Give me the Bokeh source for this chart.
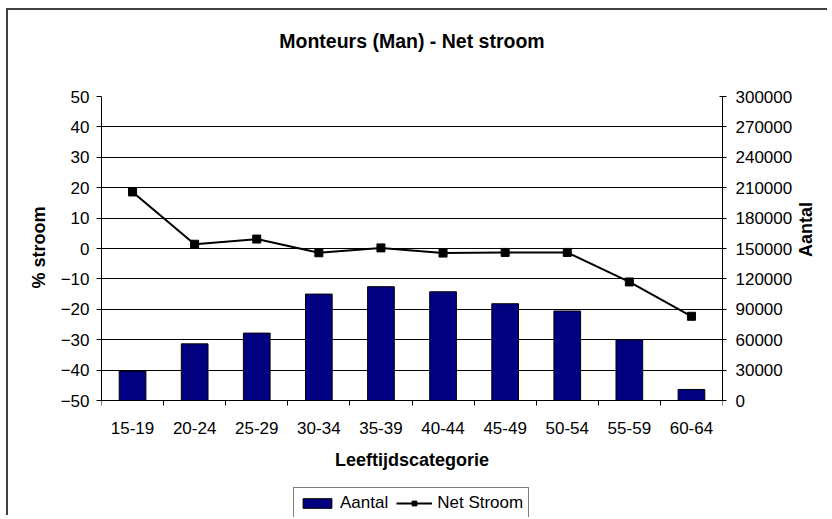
import math
from bokeh.plotting import figure
from bokeh.models import (Range1d, LinearAxis, FixedTicker, BasicTickFormatter,
                          Legend, LegendItem, ColumnDataSource, Title)
from bokeh.embed import file_html
from bokeh.resources import INLINE

categories = ["15-19", "20-24", "25-29", "30-34", "35-39", "40-44", "45-49", "50-54", "55-59", "60-64"]
aantal = [29000, 55900, 66500, 105000, 112300, 107300, 95500, 88300, 59900, 10900]
net_stroom = [18.6, 1.4, 3.1, -1.4, 0.2, -1.5, -1.3, -1.3, -11.0, -22.3]
left_ticks = [-50, -40, -30, -20, -10, 0, 10, 20, 30, 40, 50]
right_ticks = [0, 30000, 60000, 90000, 120000, 150000, 180000, 210000, 240000, 270000, 300000]
chart_title = "Monteurs (Man) - Net stroom"
left_title = "% stroom"
right_title = "Aantal"
x_title = "Leeftijdscategorie"

FONT = "Liberation Sans"
n = len(categories)
xs = [i + 0.5 for i in range(n)]
source = ColumnDataSource(dict(x=xs, cat=categories, aantal=aantal, net=net_stroom))

# The plotting frame runs down to the bottom of the canvas so that the x axis,
# its title and the legend (all placed under the value band) are not clipped.
W, H = 821, 507
MB_LEFT, MB_RIGHT, MB_TOP = 93, 102, 86
frame_h = H - MB_TOP
value_px = 304  # pixel height of the -50..50 band
y_lo = left_ticks[-1] - (left_ticks[-1] - left_ticks[0]) * frame_h / value_px
ratio = (right_ticks[-1] - right_ticks[0]) / (left_ticks[-1] - left_ticks[0])
r_lo = right_ticks[0] + (y_lo - left_ticks[0]) * ratio
band_shift = (frame_h - value_px) / 2  # distance from frame centre up to band centre

p = figure(width=W, height=H, x_range=Range1d(0, n), y_range=Range1d(y_lo, left_ticks[-1]),
           output_backend="svg", toolbar_location=None,
           min_border_left=MB_LEFT, min_border_right=MB_RIGHT, min_border_top=MB_TOP,
           min_border_bottom=0)
p.styles = {"border-left": "2px solid #404040", "border-top": "2px solid #404040",
            "transform": "translate(6px, 8px)"}

# spacer between frame and title, then the title itself
p.add_layout(Title(text=" ", text_font_size="1px", standoff=42), "above")
p.add_layout(Title(text=chart_title, align="center", text_font=FONT, text_font_size="19.5px",
                   text_font_style="bold", text_color="black", standoff=0), "above")

p.extra_y_ranges = {"aantal": Range1d(r_lo, right_ticks[-1])}

p.outline_line_color = None
p.background_fill_color = "white"
p.border_fill_color = "white"
p.xgrid.visible = False
p.ygrid.ticker = FixedTicker(ticks=left_ticks)
p.ygrid.grid_line_color = "#000000"
p.ygrid.grid_line_width = 1

# x axis, fixed at the bottom of the value band
xa = p.xaxis[0]
xa.fixed_location = left_ticks[0]
xa.ticker = FixedTicker(ticks=xs, minor_ticks=list(range(n + 1)))
xa.major_label_overrides = {x: c for x, c in zip(xs, categories)}
xa.major_tick_out = 0
xa.major_tick_in = 0
xa.minor_tick_out = 5
xa.minor_tick_in = 0
xa.minor_tick_line_color = "black"
xa.axis_line_color = "black"
xa.major_label_text_font = FONT
xa.major_label_text_font_size = "17px"
xa.major_label_text_color = "black"
xa.major_label_standoff = 16
xa.axis_label = x_title
xa.axis_label_text_font = FONT
xa.axis_label_text_font_size = "18px"
xa.axis_label_text_font_style = "bold"
xa.axis_label_text_color = "black"
xa.axis_label_standoff = 13

# left axis
ya = p.yaxis[0]
ya.bounds = (left_ticks[0], left_ticks[-1])
ya.ticker = FixedTicker(ticks=left_ticks)
ya.minor_tick_line_color = None
ya.axis_line_color = "black"
ya.major_tick_line_color = "black"
ya.major_tick_out = 5
ya.major_tick_in = 0
ya.major_label_standoff = 7
ya.major_label_text_font = FONT
ya.major_label_text_font_size = "17px"
ya.major_label_text_color = "black"

# left axis title, centred on the value band (reads bottom to top)
p.add_layout(Title(text=left_title, align="left", vertical_align="bottom",
                   offset=int(frame_h - value_px / 2 - 40), standoff=18,
                   text_font=FONT, text_font_size="18px", text_font_style="bold",
                   text_color="black"), "left")

# right axis
ra = LinearAxis(y_range_name="aantal", ticker=FixedTicker(ticks=right_ticks),
                formatter=BasicTickFormatter(use_scientific=False),
                bounds=(right_ticks[0], right_ticks[-1]))
ra.minor_tick_line_color = None
ra.axis_line_color = "black"
ra.major_tick_line_color = "black"
ra.major_tick_out = 4
ra.major_tick_in = 3
ra.major_label_standoff = 9
ra.major_label_text_font = FONT
ra.major_label_text_font_size = "17px"
ra.major_label_text_color = "black"
# leading no-break spaces move the visible word up to the centre of the value band
nbsp_count = int(round(band_shift / 5.96))
ra.axis_label = "\u00a0" * nbsp_count + right_title
ra.axis_label_text_font = FONT
ra.axis_label_text_font_size = "18px"
ra.axis_label_text_font_style = "bold"
ra.axis_label_text_color = "black"
ra.axis_label_standoff = 11
ra.axis_label_orientation = math.pi / 2
ra.axis_label_text_baseline = "top"
p.add_layout(ra, "right")

bars = p.vbar(x="x", top="aantal", bottom=0, width=0.43, source=source,
              y_range_name="aantal", fill_color="#000080", line_color="black", line_width=1)
ln = p.line(x="x", y="net", source=source, line_color="black", line_width=2)
mk = p.scatter(x="x", y="net", source=source, marker="square", size=8,
               fill_color="black", line_color="black")

legend = Legend(items=[LegendItem(label="Aantal", renderers=[bars]),
                       LegendItem(label="Net Stroom", renderers=[ln, mk])],
                location=(192, -2), orientation="horizontal",
                label_text_font=FONT, label_text_font_size="17px", label_text_color="black",
                glyph_width=36, glyph_height=12, label_standoff=5, spacing=8,
                padding=5, margin=0, border_line_color="black", border_line_width=1,
                background_fill_color="white", background_fill_alpha=1)
p.add_layout(legend)

open("out.html", "w").write(file_html(p, INLINE))
